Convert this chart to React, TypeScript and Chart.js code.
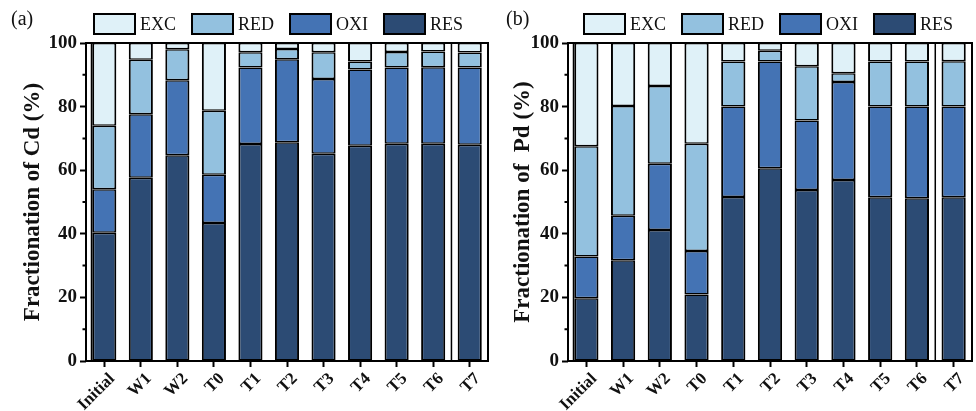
import React, { useEffect, useRef } from "react";
import { Chart, registerables } from "chart.js";

Chart.register(...registerables);

const categories = ["Initial", "W1", "W2", "T0", "T1", "T2", "T3", "T4", "T5", "T6", "T7"];
const yTickValues = [0, 20, 40, 60, 80, 100];
const minorTickValues = [10, 30, 50, 70, 90];
const seriesNames = ["RES", "OXI", "RED", "EXC"];
const seriesColors = ["#2c4b74", "#4473b4", "#93c1df", "#dff1f8"];

// Cd fractions (%)
const cdRES = [40.3, 57.6, 64.7, 43.4, 68.2, 68.8, 65.2, 67.7, 68.3, 68.3, 68.0];
const cdOXI = [13.7, 20.0, 23.6, 15.2, 24.1, 26.1, 23.5, 24.0, 24.0, 24.1, 24.3];
const cdRED = [20.0, 17.1, 9.7, 20.1, 4.8, 3.2, 8.4, 2.5, 4.9, 4.9, 4.7];
const cdEXC = [26.0, 5.3, 2.0, 21.3, 2.9, 1.9, 2.9, 5.8, 2.8, 2.7, 3.0];

// Pd fractions (%)
const pdRES = [19.7, 31.7, 41.2, 20.9, 51.6, 60.6, 53.8, 56.9, 51.5, 51.2, 51.5];
const pdOXI = [13.2, 14.0, 20.8, 13.7, 28.4, 33.6, 21.8, 30.8, 28.5, 28.8, 28.5];
const pdRED = [34.6, 34.5, 24.5, 33.7, 14.2, 3.4, 17.1, 2.8, 14.2, 14.2, 14.3];
const pdEXC = [32.5, 19.8, 13.5, 31.7, 5.8, 2.4, 7.3, 9.5, 5.8, 5.8, 5.7];

const SERIF = "'Liberation Serif', 'Times New Roman', serif";

const decorPlugin = {
  id: "decor",
  afterDatasetsDraw(chart: any) {
    const { ctx, chartArea: a, scales } = chart;
    const y = scales.y;
    const x = scales.x;
    ctx.save();
    ctx.strokeStyle = "#000";
    // frame
    ctx.lineWidth = 2;
    ctx.strokeRect(a.left, a.top, a.right - a.left, a.bottom - a.top);
    // minor ticks
    ctx.beginPath();
    minorTickValues.forEach((v) => {
      const py = y.getPixelForValue(v);
      ctx.moveTo(a.left, py);
      ctx.lineTo(a.left - 3.5, py);
    });
    ctx.stroke();
    // inner frame lines
    ctx.lineWidth = 1.5;
    const xs = x.getPixelForValue(9.5);
    ctx.beginPath();
    ctx.moveTo(xs, a.top);
    ctx.lineTo(xs, a.bottom);
    ctx.moveTo(a.left + 5.5, a.top);
    ctx.lineTo(a.left + 5.5, a.bottom);
    ctx.stroke();
    // legend
    const ds = chart.data.datasets.slice().reverse();
    let lx = 94;
    const by = 14;
    const bw = 41;
    const bh = 20;
    ctx.font = `18px ${SERIF}`;
    ctx.textBaseline = "middle";
    ctx.textAlign = "left";
    ds.forEach((d: any) => {
      ctx.fillStyle = d.backgroundColor;
      ctx.fillRect(lx, by, bw, bh);
      ctx.lineWidth = 2;
      ctx.strokeStyle = "#000";
      ctx.strokeRect(lx, by, bw, bh);
      ctx.fillStyle = "#111";
      const tx = lx + bw + 5;
      ctx.fillText(d.label, tx, by + bh / 2 + 1);
      lx = tx + ctx.measureText(d.label).width + 16;
    });
    ctx.restore();
  },
};

type PanelProps = {
  width: number;
  yWidth: number;
  rightPad: number;
  title: string;
  series: number[][];
};

function Panel({ width, yWidth, rightPad, title, series }: PanelProps) {
  const ref = useRef<HTMLCanvasElement | null>(null);
  useEffect(() => {
    if (!ref.current) return;
    const chart = new Chart(ref.current, {
      type: "bar",
      data: {
        labels: categories,
        datasets: seriesNames.map((name, i) => ({
          label: name,
          data: series[i],
          backgroundColor: seriesColors[i],
          borderColor: "#000",
          borderWidth: { left: 2, right: 2, top: 1.5, bottom: 1.5 },
          borderSkipped: false,
          categoryPercentage: 1,
          barPercentage: 0.66,
        })),
      },
      options: {
        responsive: false,
        animation: false,
        layout: { padding: { top: 43, left: 0, right: rightPad, bottom: 0 } },
        plugins: { legend: { display: false }, tooltip: { enabled: false } },
        scales: {
          x: {
            stacked: true,
            offset: true,
            border: { display: false },
            grid: {
              display: true,
              offset: false,
              drawOnChartArea: false,
              drawTicks: true,
              tickLength: 6,
              tickColor: "#000",
              tickWidth: 2,
            },
            ticks: {
              autoSkip: false,
              minRotation: 45,
              maxRotation: 45,
              color: "#111",
              padding: 2,
              labelOffset: 8,
              font: { family: SERIF, size: 17, weight: "bold" },
            },
            afterFit: (s: any) => {
              s.height = 50;
            },
          },
          y: {
            stacked: true,
            min: 0,
            max: 100,
            border: { display: false },
            grid: {
              display: true,
              drawOnChartArea: false,
              drawTicks: true,
              tickLength: 6,
              tickColor: "#000",
              tickWidth: 2,
            },
            afterBuildTicks: (s: any) => {
              s.ticks = yTickValues.map((v) => ({ value: v }));
            },
            ticks: {
              color: "#111",
              padding: 3,
              font: { family: SERIF, size: 19, weight: "bold" },
            },
            title: {
              display: true,
              text: title,
              color: "#111",
              padding: { top: 19, bottom: 0 },
              font: { family: SERIF, size: 23, weight: "bold" },
            },
            afterFit: (s: any) => {
              s.width = yWidth;
            },
          },
        },
      },
      plugins: [decorPlugin],
    } as any);
    return () => chart.destroy();
  }, []);
  return <canvas ref={ref} width={width} height={411} style={{ display: "block" }} />;
}

export default function App() {
  const labelStyle: React.CSSProperties = {
    position: "absolute",
    top: 6,
    fontFamily: SERIF,
    fontSize: 20,
    color: "#111",
    lineHeight: "24px",
  };
  return (
    <div style={{ position: "absolute", left: 0, top: 0, width: 976, height: 411, background: "#fff", overflow: "hidden" }}>
      <div style={{ position: "absolute", left: 0, top: 0 }}>
        <Panel width={490} yWidth={86} rightPad={2} title="Fractionation of Cd (%)" series={[cdRES, cdOXI, cdRED, cdEXC]} />
      </div>
      <div style={{ position: "absolute", left: 490, top: 0 }}>
        <Panel width={486} yWidth={78} rightPad={4} title="Fractionation of  Pd (%)" series={[pdRES, pdOXI, pdRED, pdEXC]} />
      </div>
      <div style={{ ...labelStyle, left: 11 }}>(a)</div>
      <div style={{ ...labelStyle, left: 506 }}>(b)</div>
    </div>
  );
}
